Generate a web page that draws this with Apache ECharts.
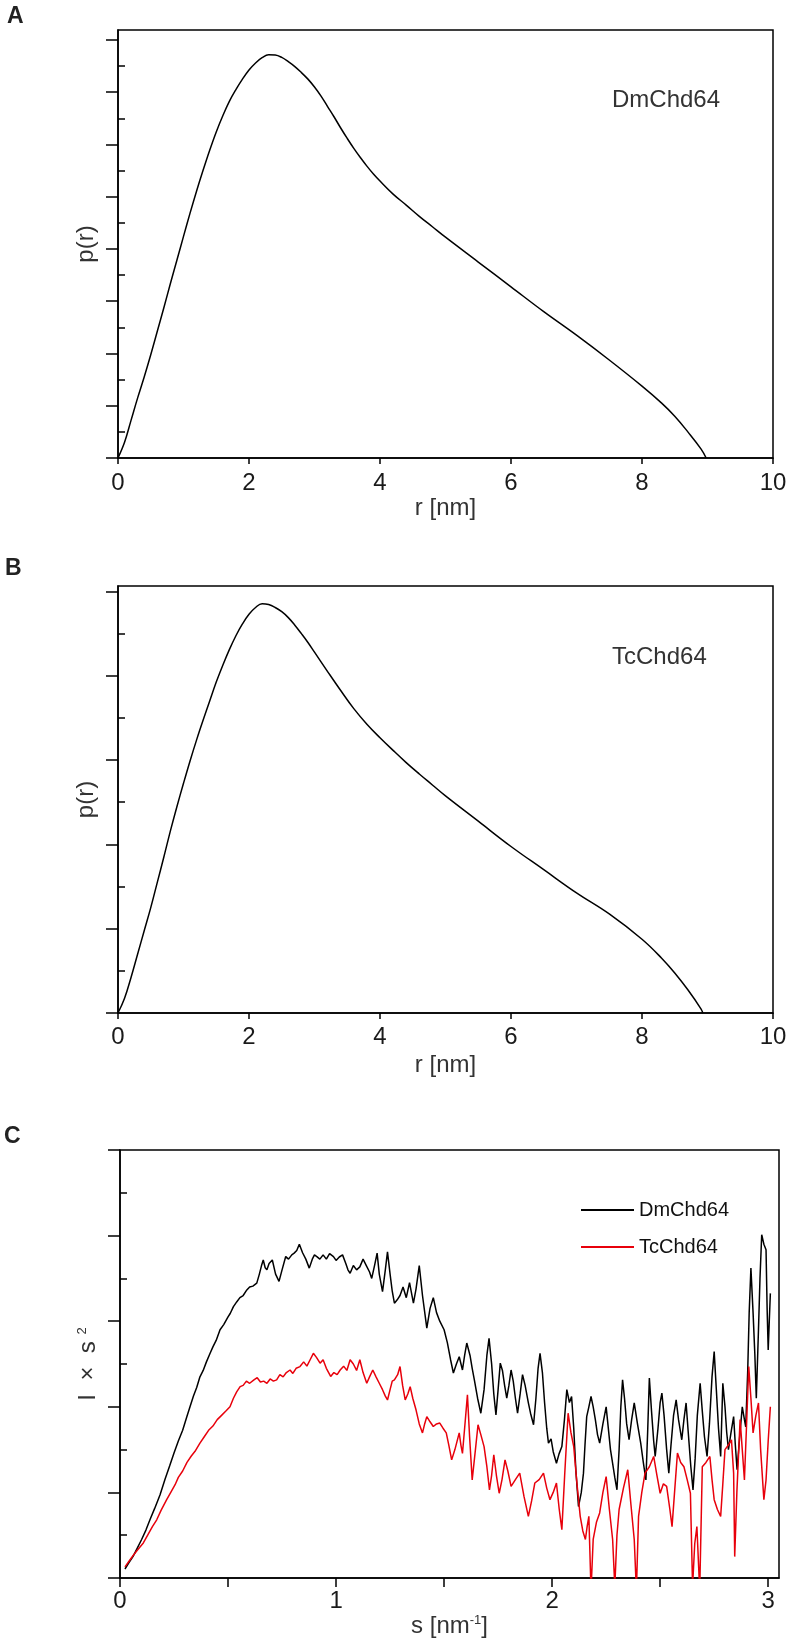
<!DOCTYPE html>
<html>
<head>
<meta charset="utf-8">
<script src="https://cdn.jsdelivr.net/npm/echarts@6/dist/echarts.min.js"></script>
<style>
html,body{margin:0;padding:0;background:#fff;}
#chart{width:797px;height:1638px;}
</style>
</head>
<body>
<div id="chart"></div>
<script>
// ---------- DATA ----------
// Panel A: DmChd64 p(r)
const rA = [0,0.1,0.2,0.3,0.4,0.5,0.6,0.7,0.8,0.9,1.0,1.1,1.2,1.3,1.4,1.5,1.6,1.7,1.8,1.9,2.0,2.1,2.2,2.3,2.4,2.5,2.6,2.7,2.8,2.9,3.0,
            3.1,3.2,3.3,3.4,3.5,3.6,3.7,3.8,3.9,4.0,4.2,4.4,4.6,4.8,5.0,5.5,6.0,6.5,7.0,7.5,8.0,8.3,8.5,8.7,8.9,8.98];
const pA = [0,0.6,1.45,2.3,3.1,3.95,4.85,5.75,6.68,7.58,8.48,9.37,10.22,11.02,11.78,12.48,13.1,13.65,14.1,14.5,14.85,15.12,15.32,15.43,15.42,15.33,15.17,14.98,14.75,14.5,14.2,
            13.85,13.45,13.05,12.63,12.23,11.85,11.5,11.17,10.87,10.6,10.1,9.68,9.25,8.85,8.45,7.5,6.55,5.6,4.7,3.75,2.75,2.1,1.6,1.0,0.35,0];
// Panel B: TcChd64 p(r)
const rB = [0,0.1,0.2,0.3,0.4,0.5,0.6,0.7,0.8,0.9,1.0,1.1,1.2,1.3,1.4,1.5,1.6,1.7,1.8,1.9,2.0,2.1,2.2,2.3,2.4,2.5,2.6,2.7,2.8,2.9,3.0,
            3.2,3.4,3.6,3.8,4.0,4.2,4.4,4.6,4.8,5.0,5.5,6.0,6.5,7.0,7.5,8.0,8.3,8.5,8.7,8.9,8.93];
const pB = [0,0.35,0.85,1.4,1.95,2.5,3.1,3.7,4.32,4.9,5.45,5.98,6.48,6.95,7.4,7.85,8.25,8.62,8.95,9.23,9.46,9.62,9.71,9.69,9.62,9.52,9.38,9.2,9.0,8.79,8.56,
            8.1,7.65,7.22,6.85,6.53,6.23,5.94,5.67,5.41,5.15,4.55,3.95,3.4,2.85,2.35,1.75,1.3,0.95,0.55,0.1,0];
// Panel C: I x s^2 vs s  ([s, value] pairs)
const dmChd64C = [[0.023,0.21],[0.04,0.35],[0.06,0.5],[0.08,0.7],[0.1,0.9],[0.12,1.12],[0.14,1.38],[0.16,1.62],[0.185,1.94],[0.208,2.3],
 [0.23,2.62],[0.25,2.92],[0.27,3.2],[0.29,3.45],[0.31,3.78],[0.324,4.0],[0.34,4.25],[0.355,4.45],[0.37,4.7],[0.385,4.85],[0.4,5.05],
 [0.417,5.25],[0.43,5.4],[0.445,5.55],[0.463,5.8],[0.48,5.92],[0.5,6.1],[0.51,6.18],[0.525,6.34],[0.54,6.45],[0.555,6.55],[0.57,6.6],
 [0.587,6.73],[0.6,6.8],[0.615,6.82],[0.633,6.89],[0.645,7.1],[0.655,7.3],[0.663,7.43],[0.672,7.25],[0.68,7.2],[0.69,7.35],[0.705,7.43],
 [0.72,7.1],[0.736,6.93],[0.75,7.2],[0.767,7.51],[0.78,7.45],[0.795,7.55],[0.806,7.59],[0.818,7.65],[0.83,7.8],[0.845,7.6],[0.86,7.45],
 [0.876,7.24],[0.89,7.45],[0.9,7.55],[0.911,7.51],[0.925,7.45],[0.94,7.55],[0.955,7.45],[0.97,7.58],[0.988,7.51],[1.0,7.42],[1.015,7.5],
 [1.03,7.55],[1.045,7.35],[1.055,7.2],[1.065,7.12],[1.08,7.3],[1.095,7.2],[1.11,7.27],[1.125,7.45],[1.14,7.3],[1.155,7.15],[1.165,7.0],
 [1.178,7.3],[1.19,7.59],[1.2,7.1],[1.215,6.69],[1.228,7.2],[1.238,7.62],[1.25,7.1],[1.26,6.7],[1.27,6.42],[1.283,6.5],[1.296,6.6],
 [1.31,6.8],[1.325,6.55],[1.34,6.9],[1.358,6.42],[1.37,6.75],[1.385,7.3],[1.4,6.6],[1.42,5.84],[1.435,6.3],[1.45,6.55],[1.465,6.2],
 [1.48,6.0],[1.5,5.8],[1.515,5.5],[1.53,5.1],[1.543,4.79],[1.557,5.0],[1.57,5.17],[1.585,4.86],[1.595,5.2],[1.605,5.49],[1.62,5.2],
 [1.63,4.9],[1.64,4.63],[1.655,4.2],[1.67,3.85],[1.685,4.4],[1.698,5.2],[1.708,5.6],[1.72,5.0],[1.73,4.3],[1.74,3.81],[1.75,4.4],
 [1.76,5.02],[1.77,4.85],[1.78,4.5],[1.79,4.2],[1.8,4.5],[1.81,4.86],[1.82,4.6],[1.83,4.2],[1.84,3.85],[1.852,4.3],[1.863,4.75],
 [1.875,4.5],[1.89,4.09],[1.9,3.85],[1.914,3.58],[1.925,4.2],[1.935,4.9],[1.944,5.25],[1.955,4.8],[1.965,4.1],[1.975,3.5],[1.983,3.15],
 [1.995,3.25],[2.005,2.95],[2.02,2.68],[2.032,2.9],[2.045,3.07],[2.057,3.7],[2.068,4.4],[2.08,4.1],[2.09,4.24],[2.1,3.5],[2.11,2.5],
 [2.122,1.67],[2.135,2.0],[2.145,2.45],[2.152,3.1],[2.16,3.77],[2.17,4.0],[2.18,4.24],[2.19,4.0],[2.2,3.7],[2.21,3.35],[2.22,3.15],
 [2.235,3.6],[2.25,4.0],[2.26,3.5],[2.27,3.0],[2.28,2.68],[2.29,2.35],[2.3,2.06],[2.31,3.0],[2.318,4.0],[2.326,4.63],[2.335,4.2],
 [2.345,3.6],[2.356,3.23],[2.368,3.7],[2.38,4.09],[2.395,3.6],[2.41,3.15],[2.422,2.7],[2.434,2.29],[2.442,3.4],[2.45,4.67],[2.46,3.9],
 [2.47,3.2],[2.477,2.84],[2.49,3.5],[2.5,4.1],[2.508,4.32],[2.518,3.8],[2.53,3.0],[2.54,2.45],[2.55,3.1],[2.562,3.8],[2.574,4.16],
 [2.585,3.7],[2.6,3.23],[2.61,3.7],[2.62,4.09],[2.63,3.4],[2.642,2.6],[2.652,2.06],[2.662,2.8],[2.672,3.8],[2.685,4.55],[2.695,3.9],
 [2.705,3.3],[2.717,2.84],[2.728,3.6],[2.74,4.7],[2.75,5.29],[2.76,4.4],[2.77,3.5],[2.78,2.84],[2.79,4.55],[2.8,4.0],[2.808,3.4],
 [2.816,3.0],[2.828,3.4],[2.84,3.77],[2.848,3.1],[2.856,2.53],[2.868,3.3],[2.88,4.0],[2.89,3.7],[2.896,3.53],[2.905,4.8],[2.912,6.2],
 [2.92,7.24],[2.93,6.2],[2.938,5.25],[2.945,4.2],[2.955,5.8],[2.962,7.0],[2.97,8.02],[2.98,7.8],[2.99,7.67],[2.995,6.3],[3.0,5.33],
 [3.005,6.0],[3.01,6.65]];
const tcChd64C = [[0.023,0.26],[0.04,0.38],[0.06,0.52],[0.08,0.65],[0.108,0.82],[0.13,1.02],[0.15,1.2],[0.17,1.36],[0.19,1.58],[0.216,1.83],
 [0.235,2.0],[0.255,2.18],[0.27,2.35],[0.29,2.5],[0.31,2.7],[0.33,2.85],[0.35,2.98],[0.37,3.15],[0.39,3.3],[0.41,3.45],[0.43,3.55],
 [0.45,3.7],[0.47,3.8],[0.49,3.9],[0.509,4.0],[0.525,4.2],[0.54,4.35],[0.556,4.47],[0.57,4.5],[0.585,4.6],[0.6,4.55],[0.62,4.63],
 [0.635,4.68],[0.65,4.58],[0.665,4.6],[0.68,4.55],[0.695,4.65],[0.71,4.6],[0.725,4.63],[0.74,4.75],[0.755,4.7],[0.77,4.8],[0.787,4.86],
 [0.8,4.78],[0.815,4.9],[0.833,4.94],[0.85,5.05],[0.865,4.95],[0.88,5.1],[0.895,5.25],[0.91,5.15],[0.926,5.02],[0.94,5.1],[0.955,4.9],
 [0.975,4.71],[0.99,4.8],[1.005,4.75],[1.019,4.86],[1.035,4.95],[1.05,4.85],[1.065,5.1],[1.08,5.0],[1.095,4.85],[1.11,5.1],[1.125,4.8],
 [1.142,4.55],[1.155,4.7],[1.17,4.86],[1.185,4.7],[1.2,4.55],[1.215,4.4],[1.228,4.25],[1.238,4.16],[1.25,4.4],[1.26,4.6],[1.27,4.63],
 [1.285,4.75],[1.296,4.94],[1.308,4.5],[1.32,4.16],[1.332,4.3],[1.343,4.47],[1.355,4.2],[1.37,3.93],[1.385,3.6],[1.4,3.39],[1.41,3.6],
 [1.42,3.77],[1.435,3.65],[1.45,3.54],[1.465,3.6],[1.48,3.62],[1.495,3.5],[1.51,3.39],[1.522,3.1],[1.535,2.76],[1.55,3.0],[1.57,3.39],
 [1.578,3.1],[1.585,2.91],[1.595,3.5],[1.608,4.28],[1.618,3.3],[1.63,2.29],[1.645,3.0],[1.657,3.58],[1.67,3.35],[1.685,3.07],[1.698,2.6],
 [1.71,2.06],[1.72,2.4],[1.73,2.88],[1.742,2.4],[1.755,1.98],[1.768,2.3],[1.782,2.76],[1.795,2.5],[1.81,2.14],[1.83,2.3],[1.85,2.45],
 [1.87,1.9],[1.89,1.44],[1.905,1.8],[1.92,2.22],[1.94,2.3],[1.96,2.45],[1.975,2.1],[1.99,1.83],[2.005,2.0],[2.02,2.22],[2.033,1.6],
 [2.045,1.13],[2.058,2.4],[2.074,3.85],[2.087,3.4],[2.1,3.07],[2.115,2.2],[2.13,1.44],[2.142,1.1],[2.154,0.9],[2.162,1.2],[2.17,1.44],
 [2.18,-0.3],[2.19,0.9],[2.205,1.3],[2.22,1.52],[2.235,2.0],[2.25,2.37],[2.265,1.6],[2.28,0.9],[2.29,-0.2],[2.3,1.0],[2.31,1.6],
 [2.33,2.1],[2.35,2.53],[2.365,1.7],[2.38,0.9],[2.39,-0.3],[2.4,1.44],[2.415,2.0],[2.43,2.45],[2.45,2.6],[2.47,2.84],[2.485,2.4],
 [2.5,1.98],[2.515,2.2],[2.53,2.14],[2.545,1.6],[2.555,1.2],[2.568,2.1],[2.58,2.92],[2.595,2.7],[2.61,2.6],[2.625,2.3],[2.64,1.98],
 [2.65,-0.2],[2.66,0.8],[2.67,1.2],[2.683,-0.3],[2.695,2.6],[2.712,2.7],[2.73,2.84],[2.74,2.3],[2.75,1.83],[2.765,1.6],[2.78,1.44],
 [2.79,2.2],[2.8,3.0],[2.815,3.1],[2.83,3.23],[2.84,2.45],[2.845,0.5],[2.855,2.0],[2.87,3.7],[2.88,3.0],[2.89,2.29],[2.9,3.6],
 [2.91,4.94],[2.92,4.2],[2.93,3.39],[2.943,3.8],[2.955,4.09],[2.965,3.0],[2.98,1.83],[2.99,2.29],[3.0,3.2],[3.01,4.0]];

const yMajorA = [0,2,4,6,8,10,12,14,16];
const yMinorA = [1,3,5,7,9,11,13,15];
const yMajorB = [0,2,4,6,8,10];
const yMinorB = [1,3,5,7,9];
const yMajorC = [0,2,4,6,8,10];
const yMinorC = [1,3,5,7,9];
const xTicksC = [0,0.5,1,1.5,2,2.5,3];
const xLabelsC = [0,1,2,3];

// ---------- CHART ----------
const FONT = '"Liberation Sans", Arial, Helvetica, sans-serif';
const zip = (a, b) => a.map((v, i) => [v, b[i]]);
const chart = echarts.init(document.getElementById('chart'), null, {renderer: 'canvas'});

const lineStyleAxis = {color: '#000', width: 1.5};
function gridOpt(left, top, width, height) {
  return {left, top, width, height, show: true, borderColor: '#000', borderWidth: 1.5,
          backgroundColor: 'transparent', containLabel: false, outerBoundsMode: 'none'};
}
function xAxisOpt(gi, extra) {
  return Object.assign({
    gridIndex: gi, type: 'value',
    axisLine: {show: true, onZero: false, lineStyle: lineStyleAxis},
    axisTick: {show: true, length: 6, lineStyle: lineStyleAxis},
    splitLine: {show: false},
    nameLocation: 'middle',
    nameTextStyle: {fontSize: 24, color: '#333', fontFamily: FONT}
  }, extra);
}
function yAxisPair(gi, max, majors, minors, name, nameGap, rich) {
  return [
    {gridIndex: gi, type: 'value', min: 0, max: max,
     axisLine: {show: true, onZero: false, lineStyle: lineStyleAxis},
     axisTick: {show: true, length: 12, customValues: majors, lineStyle: lineStyleAxis},
     axisLabel: {show: false}, splitLine: {show: false},
     name: name, nameLocation: 'middle', nameGap: nameGap,
     nameTextStyle: {fontSize: 24, color: '#333', fontFamily: FONT, rich: rich || {}}},
    {gridIndex: gi, type: 'value', min: 0, max: max,
     axisLine: {show: false},
     axisTick: {show: true, length: 7, customValues: minors, lineStyle: lineStyleAxis},
     axisLabel: {show: false}, splitLine: {show: false}}
  ];
}

const option = {
  animation: false,
  backgroundColor: '#fff',
  textStyle: {fontFamily: FONT},
  title: [
    {text: 'A', left: 7, top: 5, padding: 0, textStyle: {fontSize: 23, fontWeight: 'bold', color: '#222', fontFamily: FONT}},
    {text: 'B', left: 5, top: 557, padding: 0, textStyle: {fontSize: 23, fontWeight: 'bold', color: '#222', fontFamily: FONT}},
    {text: 'C', left: 4, top: 1125, padding: 0, textStyle: {fontSize: 23, fontWeight: 'bold', color: '#222', fontFamily: FONT}},
    {text: 'DmChd64', left: 612, top: 88, padding: 0, textStyle: {fontSize: 24, fontWeight: 'normal', color: '#333', fontFamily: FONT}},
    {text: 'TcChd64', left: 612, top: 645, padding: 0, textStyle: {fontSize: 24, fontWeight: 'normal', color: '#333', fontFamily: FONT}}
  ],
  legend: {
    show: true, orient: 'vertical', left: 581, top: 1200, padding: 0,
    icon: 'rect', itemWidth: 53, itemHeight: 2, itemGap: 17,
    textStyle: {fontSize: 20, color: '#111', fontFamily: FONT},
    data: ['DmChd64', 'TcChd64']
  },
  grid: [
    gridOpt(118, 30, 655, 428),
    gridOpt(118, 586, 655, 427),
    gridOpt(120, 1150, 659, 428)
  ],
  xAxis: [
    xAxisOpt(0, {min: 0, max: 10, interval: 2, name: 'r [nm]', nameGap: 37,
      axisLabel: {fontSize: 24, margin: 13, color: '#1a1a1a', fontFamily: FONT}}),
    xAxisOpt(1, {min: 0, max: 10, interval: 2, name: 'r [nm]', nameGap: 40,
      axisLabel: {fontSize: 24, margin: 12, color: '#1a1a1a', fontFamily: FONT}}),
    xAxisOpt(2, {min: 0, max: 3.05, name: 's [nm{sup|-1}]', nameGap: 29,
      axisTick: {show: true, length: 9, customValues: xTicksC, lineStyle: lineStyleAxis},
      axisLabel: {fontSize: 24, margin: 11, color: '#1a1a1a', fontFamily: FONT, customValues: xLabelsC},
      nameTextStyle: {fontSize: 24, color: '#333', fontFamily: FONT,
        rich: {sup: {fontSize: 13, verticalAlign: 'top', color: '#333', fontFamily: FONT}}}})
  ],
  yAxis: [].concat(
    yAxisPair(0, 16.38, yMajorA, yMinorA, 'p(r)', 20),
    yAxisPair(1, 10.13, yMajorB, yMinorB, 'p(r)', 20),
    yAxisPair(2, 10, yMajorC, yMinorC, 'I  ×  s {sup|2}', 20,
      {sup: {fontSize: 13, verticalAlign: 'top', color: '#333', fontFamily: FONT}})
  ),
  series: [
    {name: 'DmChd64 p(r)', type: 'line', xAxisIndex: 0, yAxisIndex: 0, data: zip(rA, pA),
     showSymbol: false, smooth: 0.4, lineStyle: {color: '#000', width: 1.5}, itemStyle: {color: '#000'}},
    {name: 'TcChd64 p(r)', type: 'line', xAxisIndex: 1, yAxisIndex: 2, data: zip(rB, pB),
     showSymbol: false, smooth: 0.4, lineStyle: {color: '#000', width: 1.5}, itemStyle: {color: '#000'}},
    {name: 'DmChd64', type: 'line', xAxisIndex: 2, yAxisIndex: 4, data: dmChd64C,
     showSymbol: false, clip: true, lineStyle: {color: '#000', width: 1.5}, itemStyle: {color: '#000'}},
    {name: 'TcChd64', type: 'line', xAxisIndex: 2, yAxisIndex: 4, data: tcChd64C,
     showSymbol: false, clip: true, lineStyle: {color: '#e8000b', width: 1.5}, itemStyle: {color: '#e8000b'}}
  ]
};
chart.setOption(option);
</script>
</body>
</html>
